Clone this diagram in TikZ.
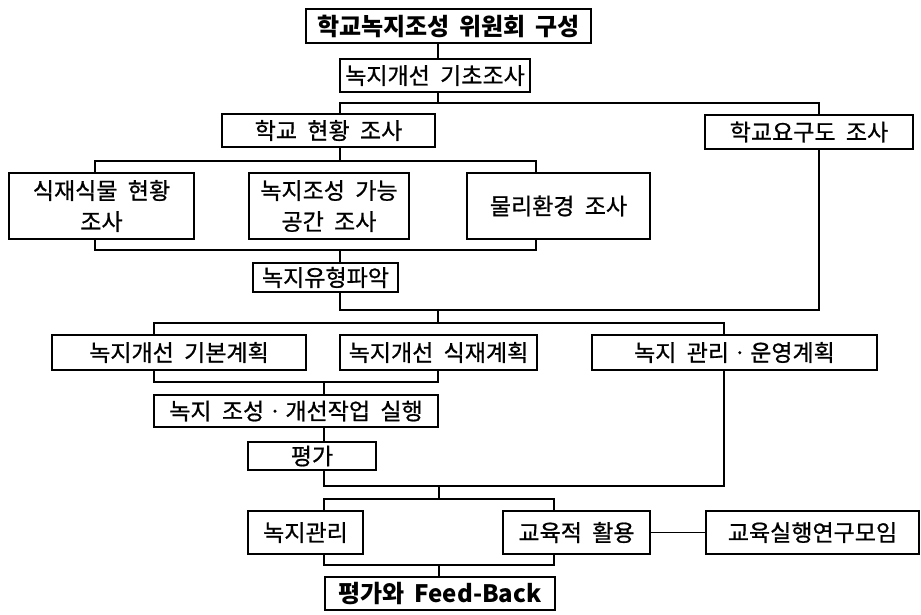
\documentclass[tikz,border=0pt]{standalone}
\usepackage{fontspec}
\setmainfont{Noto Sans CJK KR}
\newfontfamily\kr{Noto Sans CJK KR}[WordSpace=2, FakeBold=0.8]
\newfontfamily\krb{Noto Sans CJK KR}[WordSpace=1.8]
\usetikzlibrary{backgrounds}
\begin{document}
\begin{tikzpicture}[x=1pt,y=-1pt,
  box/.style={draw, line width=2.4pt, fill=white, inner sep=0pt, align=center,
    font=\kr\fontsize{23}{31}\selectfont},
  boldbox/.style={box, font=\krb\bfseries\fontsize{24}{31}\selectfont},
  link/.style={line width=1.3pt}]
\useasboundingbox (0,0) rectangle (921,614);

\node[boldbox, minimum width=285, minimum height=34] (n1) at (448.5,26) {학교녹지조성 위원회 구성};
\node[box, minimum width=190, minimum height=33] (n2) at (435,75.5) {녹지개선 기초조사};
\node[box, minimum width=213, minimum height=33] (n3) at (328.5,130.5) {학교 현황 조사};
\node[box, minimum width=208, minimum height=34] (n4) at (809,132) {학교요구도 조사};
\node[box, minimum width=185, minimum height=66] (n5) at (101.5,206) {식재식물 현황\\조사};
\node[box, minimum width=160, minimum height=66] (n6) at (329,206) {녹지조성 가능\\공간 조사};
\node[box, minimum width=183, minimum height=66] (n7) at (558.5,206) {물리환경 조사};
\node[box, minimum width=145, minimum height=29] (n8) at (325.5,277.5) {녹지유형파악};
\node[box, minimum width=254, minimum height=35] (n9) at (179,352.5) {녹지개선 기본계획};
\node[box, minimum width=197, minimum height=35] (n10) at (438.5,352.5) {녹지개선 식재계획};
\node[box, minimum width=285, minimum height=35] (n11) at (734.5,352.5) {녹지 관리ㆍ운영계획};
\node[box, minimum width=284, minimum height=32] (n12) at (296,411) {녹지 조성ㆍ개선작업 실행};
\node[box, minimum width=128, minimum height=28] (n13) at (312,456) {평가};
\node[box, minimum width=115, minimum height=43] (n14) at (305.5,532.5) {녹지관리};
\node[box, minimum width=147, minimum height=43] (n15) at (576.5,532.5) {교육적 활용};
\node[box, minimum width=213, minimum height=43] (n16) at (812.5,532.5) {교육실행연구모임};
\node[boldbox, minimum width=230, minimum height=33] (n17) at (440,593.5) {평가와 Feed-Back};

\coordinate (A1) at (438,103);
\coordinate (L1) at (340,103);
\coordinate (R1) at (819,103);
\coordinate (B2) at (340,161);
\coordinate (L2) at (95,161);
\coordinate (R2) at (536,161);
\coordinate (L3) at (95,250);
\coordinate (R3) at (536,250);
\coordinate (M3) at (340,250);
\coordinate (M4) at (340,310);
\coordinate (R4) at (819,310);
\coordinate (J5) at (438,310);
\coordinate (H5) at (438,323);
\coordinate (L5) at (154,323);
\coordinate (R5) at (724,323);
\coordinate (L6) at (154,382);
\coordinate (R6) at (438,382);
\coordinate (M6) at (324,382);
\coordinate (J7) at (324,486);
\coordinate (R7) at (724,486);
\coordinate (J8) at (439,486);
\coordinate (H8) at (439,499);
\coordinate (L8) at (324,499);
\coordinate (R8) at (554,499);
\coordinate (L9) at (324,565);
\coordinate (R9) at (554,565);
\coordinate (M9) at (439,565);

\begin{scope}[on background layer]
\fill[white] (0,0) rectangle (921,614);
\draw[link] (n1.south -| A1) -- (n2.north -| A1);
\draw[link] (n2.south -| A1) -- (A1);
\draw[link] (n3.north -| L1) -- (L1) -- (R1) -- (R4) -- (M4) -- (n8.south -| M4);
\draw[link] (n3.south -| B2) -- (B2);
\draw[link] (n5.north -| L2) -- (L2) -- (R2) -- (n7.north -| R2);
\draw[link] (n5.south -| L3) -- (L3) -- (R3) -- (n7.south -| R3);
\draw[link] (M3) -- (n8.north -| M3);
\draw[link] (J5) -- (H5);
\draw[link] (n9.north -| L5) -- (L5) -- (R5) -- (R7) -- (J7) -- (n13.south -| J7);
\draw[link] (n9.south -| L6) -- (L6) -- (R6) -- (n10.south -| R6);
\draw[link] (M6) -- (n12.north -| M6);
\draw[link] (n12.south -| M6) -- (n13.north -| M6);
\draw[link] (J8) -- (H8);
\draw[link] (n14.north -| L8) -- (L8) -- (R8) -- (n15.north -| R8);
\draw[link] (n14.south -| L9) -- (L9) -- (R9) -- (n15.south -| R9);
\draw[link] (M9) -- (n17.north -| M9);
\draw[link] (n15.east) -- (n16.west);
\end{scope}
\end{tikzpicture}
\end{document}
